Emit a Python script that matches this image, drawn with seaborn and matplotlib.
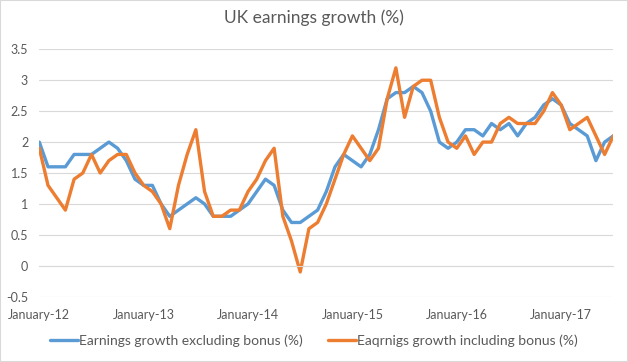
import pandas as pd
import matplotlib.pyplot as plt
import seaborn as sns
from matplotlib.patches import Rectangle

# monthly, January 2012 to July 2017
months = pd.date_range("2012-01-01", periods=67, freq="MS")

excl_bonus = [2.0, 1.6, 1.6, 1.6, 1.8, 1.8, 1.8, 1.9, 2.0, 1.9, 1.7, 1.4,
              1.3, 1.3, 1.0, 0.8, 0.9, 1.0, 1.1, 1.0, 0.8, 0.8, 0.8, 0.9,
              1.0, 1.2, 1.4, 1.3, 0.9, 0.7, 0.7, 0.8, 0.9, 1.2, 1.6, 1.8,
              1.7, 1.6, 1.8, 2.2, 2.7, 2.8, 2.8, 2.9, 2.8, 2.5, 2.0, 1.9,
              2.0, 2.2, 2.2, 2.1, 2.3, 2.2, 2.3, 2.1, 2.3, 2.4, 2.6, 2.7,
              2.6, 2.3, 2.2, 2.1, 1.7, 2.0, 2.1]
incl_bonus = [1.9, 1.3, 1.1, 0.9, 1.4, 1.5, 1.8, 1.5, 1.7, 1.8, 1.8, 1.5,
              1.3, 1.2, 1.0, 0.6, 1.3, 1.8, 2.2, 1.2, 0.8, 0.8, 0.9, 0.9,
              1.2, 1.4, 1.7, 1.9, 0.8, 0.4, -0.1, 0.6, 0.7, 1.0, 1.4, 1.8,
              2.1, 1.9, 1.7, 1.9, 2.7, 3.2, 2.4, 2.9, 3.0, 3.0, 2.4, 2.0,
              1.9, 2.1, 1.8, 2.0, 2.0, 2.3, 2.4, 2.3, 2.3, 2.3, 2.5, 2.8,
              2.6, 2.2, 2.3, 2.4, 2.1, 1.8, 2.1]

names = ["Earnings growth excluding bonus (%)",
         "Eaqrnigs growth including bonus (%)"]

df = pd.DataFrame({"pos": range(len(months)), names[0]: excl_bonus, names[1]: incl_bonus})
long = df.melt(id_vars="pos", var_name="series", value_name="value")

sns.set_style("white")
plt.rcParams["font.family"] = ["Lato", "DejaVu Sans"]

grey = "#595959"
fig = plt.figure(figsize=(6.28, 3.62), dpi=100)
ax = fig.add_axes([0.0626, 0.1804, 0.914, 0.6834])

sns.lineplot(data=long, x="pos", y="value", hue="series",
             palette=["#5B9BD5", "#ED7D31"], linewidth=2.4, ax=ax, legend=False)

ax.set_xlim(0, len(months) - 1)
ax.set_ylim(-0.5, 3.5)
ax.set_yticks([-0.5, 0, 0.5, 1, 1.5, 2, 2.5, 3, 3.5])
ax.set_yticklabels(["-0.5", "0", "0.5", "1", "1.5", "2", "2.5", "3", "3.5"])
ax.yaxis.grid(True, color="#D9D9D9", linewidth=0.8)
ax.set_axisbelow(True)

jan = [i for i, m in enumerate(months) if m.month == 1]
ax.set_xticks(jan)
ax.set_xticklabels([m.strftime("January-%y") for m in months[jan]])

for s in ["left", "right", "top"]:
    ax.spines[s].set_visible(False)
ax.spines["bottom"].set_position(("data", 0))
ax.spines["bottom"].set_color("#D9D9D9")
ax.spines["bottom"].set_linewidth(0.8)
ax.tick_params(axis="x", direction="out", length=4, color="#D9D9D9",
               labelsize=9, labelcolor=grey, pad=27)
ax.tick_params(axis="y", length=0, labelsize=9, labelcolor=grey, pad=8)
ax.set_xlabel("")
ax.set_ylabel("")

fig.suptitle("UK earnings growth (%)", y=0.975, fontsize=12.5, color=grey)

handles = [plt.Line2D([], [], color=c, linewidth=2.4) for c in ["#5B9BD5", "#ED7D31"]]
fig.legend(handles, names, loc="center", bbox_to_anchor=(0.5, 0.06), ncol=2,
           frameon=False, fontsize=10, labelcolor=grey, handlelength=2,
           handletextpad=0.1, columnspacing=1.8)

fig.patches.append(Rectangle((0, 0), 1, 1, transform=fig.transFigure,
                             fill=False, edgecolor="#D9D9D9", linewidth=1.5))

fig.savefig("out.png", dpi=100)
